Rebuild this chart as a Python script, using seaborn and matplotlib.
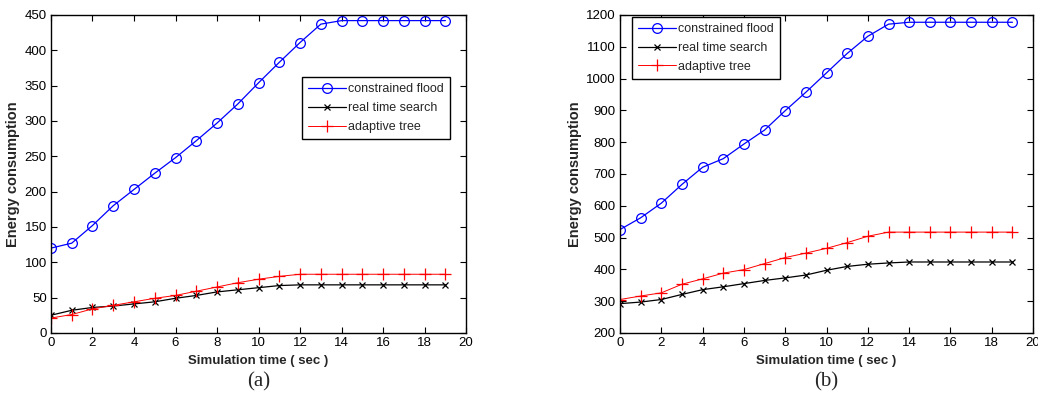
import matplotlib
matplotlib.use("Agg")
import matplotlib.pyplot as plt
import seaborn as sns
import pandas as pd

# simulation time (sec)
time = list(range(20))

# panel (a)
flood_a = [120, 127, 152, 180, 203, 226, 248, 272, 297, 324, 354, 383, 411, 437,
           442, 442, 442, 442, 442, 442]
search_a = [25, 32, 36, 38, 41, 44, 49, 53, 58, 61, 64, 67, 68, 68,
            68, 68, 68, 68, 68, 68]
tree_a = [21, 26, 34, 39, 44, 49, 53, 59, 65, 71, 76, 80, 83, 83,
          83, 83, 83, 83, 83, 83]

# panel (b)
flood_b = [525, 562, 608, 667, 721, 748, 794, 838, 899, 957, 1018, 1079, 1133, 1171,
           1177, 1177, 1177, 1177, 1177, 1177]
search_b = [292, 297, 305, 321, 336, 345, 355, 365, 373, 382, 397, 409, 416, 420,
            423, 423, 423, 423, 423, 423]
tree_b = [305, 316, 326, 353, 370, 388, 399, 418, 437, 451, 466, 484, 504, 517,
          517, 517, 517, 517, 517, 517]

series_names = ["constrained flood", "real time search", "adaptive tree"]
colors = {"constrained flood": "blue", "real time search": "black", "adaptive tree": "red"}
markers = {"constrained flood": "o", "real time search": "x", "adaptive tree": "+"}
msizes = {"constrained flood": 7, "real time search": 4, "adaptive tree": 8}
lwidths = {"constrained flood": 0.9, "real time search": 0.9, "adaptive tree": 0.7}

sns.set_style("ticks")
plt.rcParams["font.family"] = ["Liberation Sans", "DejaVu Sans"]

fig = plt.figure(figsize=(10.38, 4.04), dpi=100)
ax_a = fig.add_axes([0.0491, 0.176, 0.400, 0.787])
ax_b = fig.add_axes([0.5973, 0.176, 0.398, 0.787])


def draw_panel(ax, data, ylim, yticks, legend_anchor, caption):
    df = pd.DataFrame({"time": time, **data})
    for name in series_names:
        sns.lineplot(data=df, x="time", y=name, ax=ax, label=name,
                     color=colors[name], marker=markers[name], markersize=msizes[name],
                     mfc="none", mec=colors[name], mew=0.9, linewidth=lwidths[name])
    ax.set_xlim(0, 20)
    ax.set_ylim(*ylim)
    ax.set_xticks(range(0, 21, 2))
    ax.set_yticks(yticks)
    ax.tick_params(direction="in", top=True, right=True, length=4, width=0.8,
                   labelsize=9.5, colors="black", pad=3)
    for sp in ax.spines.values():
        sp.set_visible(True)
        sp.set_linewidth(1.0)
        sp.set_color("black")
    ax.set_xlabel("Simulation time ( sec )", fontsize=9.5, fontweight="bold", labelpad=4)
    ax.set_ylabel("Energy consumption", fontsize=10.5, fontweight="bold", labelpad=3)
    leg = ax.legend(loc="upper left", bbox_to_anchor=legend_anchor, borderaxespad=0,
                    fontsize=9, handlelength=3.0, numpoints=1,
                    fancybox=False, framealpha=1, edgecolor="black",
                    borderpad=0.5, labelspacing=0.55, handletextpad=0.15)
    leg.get_frame().set_linewidth(1.0)
    ax.text(0.5, -0.125, caption, transform=ax.transAxes, ha="center", va="top",
            fontsize=15, family=["Liberation Serif", "DejaVu Serif"])


draw_panel(ax_a, {"constrained flood": flood_a, "real time search": search_a,
                  "adaptive tree": tree_a},
           (0, 450), range(0, 451, 50), (0.605, 0.805), "(a)")
draw_panel(ax_b, {"constrained flood": flood_b, "real time search": search_b,
                  "adaptive tree": tree_b},
           (200, 1200), range(200, 1201, 100), (0.029, 0.994), "(b)")

fig.savefig("out.png", dpi=100)
plt.close(fig)
